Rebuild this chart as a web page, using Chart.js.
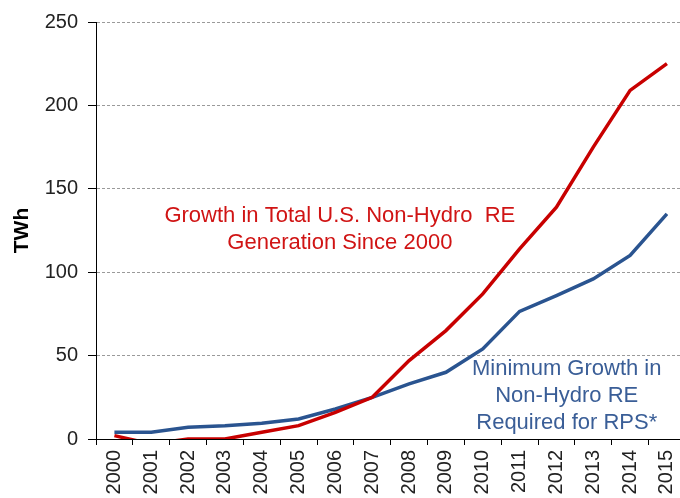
<!DOCTYPE html>
<html>
<head>
    <title>Non-Hydro RE Growth</title>
    <script src="https://cdn.jsdelivr.net/npm/chart.js"></script>
    <style>
        body { margin: 0; overflow: hidden; background: #fff; }
        canvas { display: block; }
    </style>
</head>
<body>
    <canvas id="reChart" width="696" height="498"></canvas>

    <script>
        const years = ['2000', '2001', '2002', '2003', '2004', '2005', '2006', '2007',
                       '2008', '2009', '2010', '2011', '2012', '2013', '2014', '2015'];
        const totalGrowth = [2, -3, 0, 0, 4, 8, 16, 25, 47, 65, 87, 114, 139, 175, 209, 225];
        const rpsGrowth = [4, 4, 7, 8, 9.5, 12, 18, 25, 33, 40, 54, 76.5, 86, 96, 110, 135];
        const yTicks = [0, 50, 100, 150, 200, 250];

        const redNote = ['Growth in Total U.S. Non-Hydro  RE', 'Generation Since 2000'];
        const blueNote = ['Minimum Growth in', 'Non-Hydro RE', 'Required for RPS*'];

        const RED = '#C80000';
        const BLUE = '#2A5490';
        const FONT = '"Liberation Sans", Arial, sans-serif';

        const notesPlugin = {
            id: 'notes',
            afterDatasetsDraw(chart) {
                const ctx = chart.ctx;
                const x = chart.scales.x, y = chart.scales.y;
                ctx.save();
                ctx.font = '22px ' + FONT;
                ctx.textAlign = 'center';
                ctx.textBaseline = 'middle';
                ctx.fillStyle = '#D01414';
                redNote.forEach((t, i) => ctx.fillText(t, x.getPixelForValue(6.12), y.getPixelForValue(134) + i * 27));
                ctx.fillStyle = '#3A5E97';
                blueNote.forEach((t, i) => ctx.fillText(t, x.getPixelForValue(12.28), y.getPixelForValue(42) + i * 27));
                ctx.restore();
            }
        };

        new Chart(document.getElementById('reChart').getContext('2d'), {
            type: 'line',
            data: {
                labels: years,
                datasets: [
                    { label: 'Total', data: totalGrowth, borderColor: RED, borderWidth: 3.5, pointRadius: 0, tension: 0, fill: false },
                    { label: 'RPS', data: rpsGrowth, borderColor: BLUE, borderWidth: 3.5, pointRadius: 0, tension: 0, fill: false }
                ]
            },
            options: {
                responsive: false,
                animation: false,
                layout: { padding: { top: 21, right: 2, left: 0, bottom: 0 } },
                plugins: { legend: { display: false }, tooltip: { enabled: false } },
                scales: {
                    x: {
                        offset: true,
                        grid: { display: true, offset: true, drawOnChartArea: false, drawTicks: true, tickLength: 6, tickColor: '#000' },
                        border: { display: true, color: '#000', width: 1 },
                        ticks: {
                            color: '#222', padding: 5, minRotation: 90, maxRotation: 90, autoSkip: false,
                            font: { family: FONT, size: 20 }
                        },
                        afterFit(scale) { scale.height = 59; }
                    },
                    y: {
                        min: 0, max: 250,
                        afterBuildTicks(scale) { scale.ticks = yTicks.map(v => ({ value: v })); },
                        grid: { color: '#9a9a9a', tickColor: '#000', tickLength: 8 },
                        border: { display: true, color: '#000', width: 1, dash: [3, 2] },
                        ticks: {
                            color: '#222', padding: 10,
                            font: { family: FONT, size: 20 }
                        },
                        title: {
                            display: true, text: 'TWh', color: '#000', padding: { top: 10, bottom: 0 },
                            font: { family: FONT, size: 21, weight: 'bold' }
                        },
                        afterFit(scale) { scale.width = 96; }
                    }
                }
            },
            plugins: [notesPlugin]
        });
    </script>
</body>
</html>
